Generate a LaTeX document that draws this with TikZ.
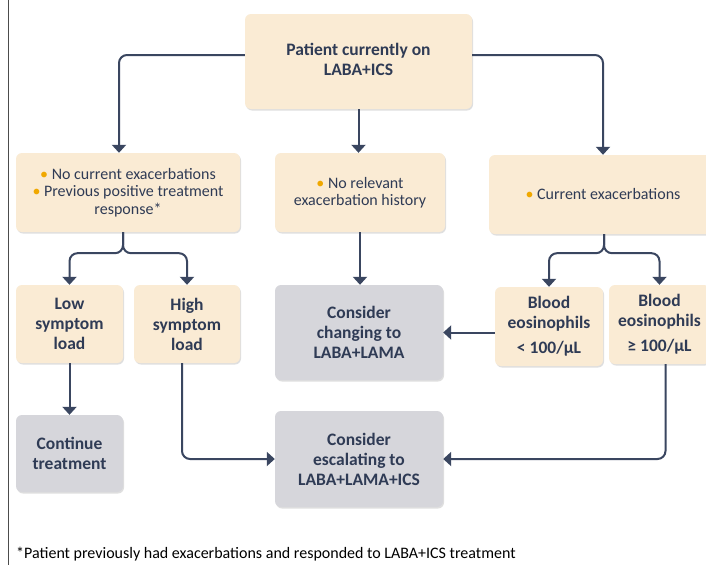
\documentclass[tikz,border=0pt]{standalone}
\usepackage{fontspec}
\setmainfont{Carlito}
\usetikzlibrary{arrows.meta,shadows}
\definecolor{cream}{HTML}{FAEBD4}
\definecolor{greybox}{HTML}{D6D6DB}
\definecolor{navy}{HTML}{2F3B55}
\definecolor{linec}{HTML}{3A4660}
\definecolor{bul}{HTML}{F0A800}
\newcommand{\bu}{\textcolor{bul}{•}}
\tikzset{
  base/.style={rounded corners=6pt, align=center, text=navy, inner sep=2pt,
    drop shadow={opacity=0.25, shadow xshift=1pt, shadow yshift=-1.5pt}},
  cbox/.style={base, fill=cream},
  gbox/.style={base, fill=greybox},
  bigt/.style={font=\bfseries\fontsize{17.5}{20}\selectfont},
  smt/.style={font=\fontsize{16}{17.5}\selectfont},
  arr/.style={draw=linec, line width=2pt, rounded corners=8pt,
    -{Triangle[width=14pt,length=8pt]}},
}
\begin{document}
\begin{tikzpicture}[x=1pt,y=-1pt]
\useasboundingbox[fill=white] (0,0) rectangle (706,565);
\draw[line width=1pt, black!70] (8,0) -- (8,565);

\node[cbox, bigt, minimum width=227pt, minimum height=95pt] (top) at (358.5,61.5) {\raisebox{5pt}{\begin{tabular}{@{}c@{}}Patient currently on\\LABA+ICS\end{tabular}}};

\node[cbox, smt, minimum width=224pt, minimum height=79pt] (A) at (128,192.5) {\bu{} No current exacerbations\\\bu{} Previous positive treatment\\response*};
\node[cbox, smt, minimum width=170pt, minimum height=79pt] (B) at (360,192.5) {\bu{} No relevant\\exacerbation history};
\node[cbox, smt, minimum width=228pt, minimum height=79pt] (C) at (603,194.5) {\bu{} Current exacerbations};

\node[cbox, bigt, minimum width=107pt, minimum height=78pt] (low) at (69.5,324) {Low\\symptom\\load};
\node[cbox, bigt, minimum width=106pt, minimum height=78pt] (high) at (187,324) {High\\symptom\\load};
\node[gbox, bigt, minimum width=168pt, minimum height=95pt] (chg) at (359,332.5) {Consider\\changing to\\LABA+LAMA};
\node[cbox, bigt, minimum width=108pt, minimum height=79pt] (blo) at (549,326.5) {Blood\\eosinophils\\[5pt]< 100/µL};
\node[cbox, bigt, minimum width=101pt, minimum height=79pt] (bhi) at (659.5,324.5) {Blood\\eosinophils\\[5pt]≥ 100/µL};

\node[gbox, bigt, minimum width=107pt, minimum height=77pt] (cont) at (69.5,453.5) {Continue\\treatment};
\node[gbox, bigt, minimum width=168pt, minimum height=96pt] (esc) at (359,459) {Consider\\escalating to\\LABA+LAMA+ICS};

\node[anchor=west, text=black, font=\fontsize{16}{18}\selectfont, inner sep=0pt] (fn) at (16,554) {*Patient previously had exacerbations and responded to LABA+ICS treatment};

\draw[arr] ([yshift=6.5pt]top.west) -| ([xshift=-9pt]A.north);
\draw[arr] ([yshift=6.5pt]top.east) -| (C.north);
\draw[arr] (top.south) -- (top.south |- B.north);
\draw[arr] ([xshift=-5pt]A.south) -- ++(0,21) -| (low.north);
\draw[arr] ([xshift=-5pt]A.south) -- ++(0,21) -| (high.north);
\draw[arr] ([xshift=1pt]C.south) -- ++(0,19) -| (blo.north);
\draw[arr] ([xshift=1pt]C.south) -- ++(0,19) -| (bhi.north);
\draw[arr] (B.south) -- (B.south |- chg.north);
\draw[arr] (chg.east -| blo.west) -- (chg.east);
\draw[arr] (low.south) -- (cont.north);
\draw[arr] ([xshift=-5pt]high.south) |- (esc.west);
\draw[arr] ([xshift=6pt]bhi.south) |- (esc.east);
\end{tikzpicture}
\end{document}
